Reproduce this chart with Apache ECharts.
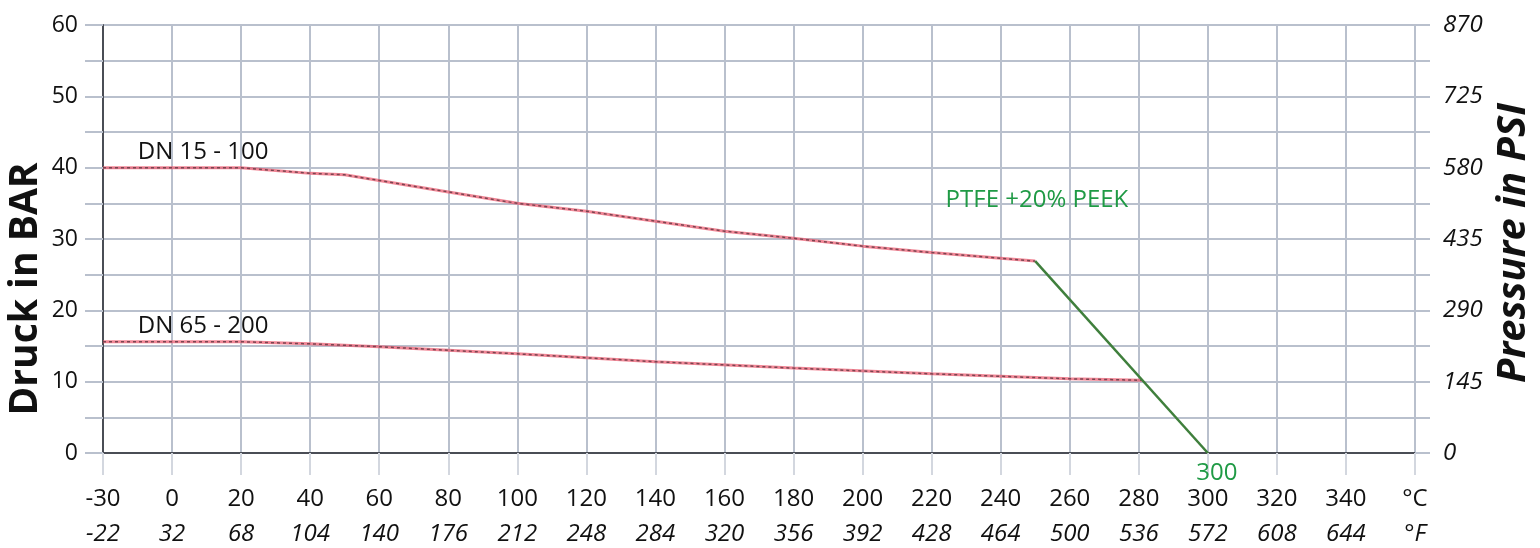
<!DOCTYPE html>
<html>
<head>
<meta charset="utf-8">
<script src="https://cdn.jsdelivr.net/npm/echarts@6/dist/echarts.min.js"></script>
<style>html,body{margin:0;padding:0;background:#fff}#c{width:1540px;height:548px}</style>
</head>
<body>
<div id="c"></div>
<script>
// Tick labels
const tickC = ['-30','0','20','40','60','80','100','120','140','160','180','200','220','240','260','280','300','320','340','°C'];
const tickF = ['-22','32','68','104','140','176','212','248','284','320','356','392','428','464','500','536','572','608','644','°F'];
const barTicks = [0,10,20,30,40,50,60];
const psiTicks = ['0','145','290','435','580','725','870'];

// Series data: temperature (°C) and pressure (bar)
const dn15Temp = [-30, 20, 40, 50, 60, 80, 100, 120, 140, 160, 180, 200, 220, 240, 250];
const dn15Bar  = [40, 40, 39.2, 39.0, 38.2, 36.6, 35.0, 33.9, 32.5, 31.1, 30.1, 29.0, 28.1, 27.3, 26.9];
const dn65Temp = [-30, 20, 40, 60, 100, 140, 180, 220, 260, 281];
const dn65Bar  = [15.6, 15.6, 15.3, 14.9, 13.9, 12.8, 11.9, 11.1, 10.4, 10.2];
const peekTemp = [250, 300];
const peekBar  = [26.9, 0];

// The chart's temperature axis is broken: -30 °C sits one step left of 0.
const pos = t => t < 0 ? t * 20 / 30 : t;
const pts = (ts, vs) => ts.map((t, i) => [pos(t), vs[i]]);

const FONT = '"Open Sans", "Noto Sans", sans-serif';
const GRID = '#b9c0cd';
const lbl = (text, color, extra) => Object.assign({
  show: true, position: 'inside', formatter: text,
  fontFamily: FONT, fontSize: 24, color: color
}, extra || {});

const chart = echarts.init(document.getElementById('c'));
chart.setOption({
  animation: false,
  backgroundColor: '#ffffff',
  grid: { left: 103, right: 125, top: 25, bottom: 95, outerBoundsMode: 'none', containLabel: false },
  xAxis: {
    type: 'value', min: -20, max: 360, interval: 20,
    axisLine: { show: true, onZero: false, lineStyle: { color: '#4a4d55', width: 2 } },
    axisTick: { show: true, length: 22, lineStyle: { color: '#d3d7df', width: 2 } },
    splitLine: { show: true, lineStyle: { color: GRID, width: 2 } },
    axisLabel: {
      margin: 29,
      formatter: v => { const i = Math.round((v + 20) / 20); return '{c|' + tickC[i] + '}\n{f|' + tickF[i] + '}'; },
      rich: {
        c: { fontFamily: FONT, fontSize: 24, color: '#111', lineHeight: 35 },
        f: { fontFamily: FONT, fontSize: 24, color: '#111', fontStyle: 'italic', lineHeight: 35 }
      }
    }
  },
  yAxis: [{
    type: 'value', min: 0, max: 60, interval: 5,
    name: 'Druck in BAR', nameLocation: 'middle', nameGap: 58, nameRotate: 90, nameMoveOverlap: false,
    nameTextStyle: { fontFamily: FONT, fontSize: 39, fontWeight: 'bold', color: '#111', padding: [0, 100, 0, 0] },
    axisLine: { show: true, onZero: false, lineStyle: { color: '#4a4d55', width: 2 } },
    axisTick: { show: true, length: 18, lineStyle: { color: GRID, width: 2 } },
    splitLine: { show: true, lineStyle: { color: GRID, width: 2 } },
    axisLabel: {
      margin: 25, fontFamily: FONT, fontSize: 23, color: '#111',
      formatter: v => barTicks.indexOf(v) >= 0 ? String(v) : ''
    }
  }, {
    type: 'value', min: 0, max: 870, interval: 72.5, position: 'right',
    name: 'Pressure in PSI', nameLocation: 'middle', nameGap: 74, nameRotate: 90,
    nameTextStyle: { fontFamily: FONT, fontSize: 40, fontWeight: 'bold', fontStyle: 'italic', color: '#111', padding: [0, 8, 0, 0] },
    axisLine: { show: false, onZero: false },
    axisTick: { show: true, length: 15, lineStyle: { color: GRID, width: 2 } },
    splitLine: { show: false },
    axisLabel: {
      margin: 28, fontFamily: FONT, fontSize: 24, fontStyle: 'italic', color: '#111',
      formatter: v => { const i = Math.round(v / 145); return Math.abs(v - i * 145) < 0.01 ? psiTicks[i] : ''; }
    }
  }],
  series: [
    {
      type: 'line', data: pts(dn15Temp, dn15Bar), symbol: 'none', z: 3,
      lineStyle: { color: 'rgba(236,95,115,0.75)', width: 3 },
      markPoint: {
        symbol: 'circle', symbolSize: 0,
        data: [{ coord: [9, 42.2], value: 0, label: lbl('DN 15 - 100', '#111') }]
      }
    },
    {
      type: 'line', data: pts(dn15Temp, dn15Bar), symbol: 'none', z: 4,
      lineStyle: { color: '#7b4450', width: 1.5, type: [3, 3] }
    },
    {
      type: 'line', data: pts(dn65Temp, dn65Bar), symbol: 'none', z: 3,
      lineStyle: { color: 'rgba(236,95,115,0.75)', width: 3 },
      markPoint: {
        symbol: 'circle', symbolSize: 0,
        data: [{ coord: [9, 17.8], value: 0, label: lbl('DN 65 - 200', '#111') }]
      }
    },
    {
      type: 'line', data: pts(dn65Temp, dn65Bar), symbol: 'none', z: 4,
      lineStyle: { color: '#7b4450', width: 1.5, type: [3, 3] }
    },
    {
      type: 'line', data: pts(peekTemp, peekBar), symbol: 'none', z: 5,
      lineStyle: { color: '#3f7f3c', width: 2.5 },
      markPoint: {
        symbol: 'circle', symbolSize: 0,
        data: [
          { coord: [250.5, 35.5], value: 0, label: lbl('PTFE +20% PEEK', '#1f9a45') },
          { coord: [300, 0], value: 0, label: lbl('300', '#1f9a45', { offset: [9, 20] }) }
        ]
      }
    }
  ]
});
</script>
</body>
</html>
